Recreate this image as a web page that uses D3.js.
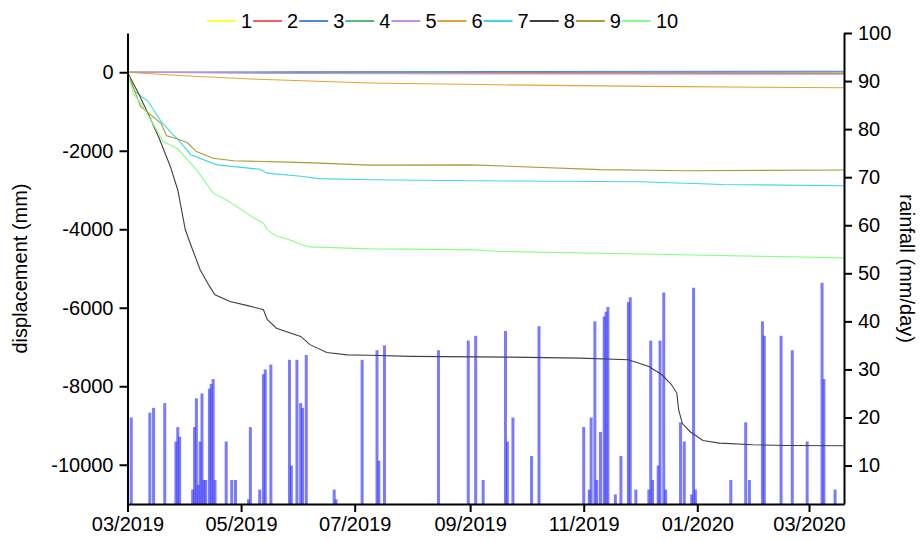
<!DOCTYPE html>
<html>
<head>
<meta charset="utf-8">
<script src="https://cdn.jsdelivr.net/npm/d3@7"></script>
<style>
  body { margin: 0; background: #fff; }
  svg text { font-family: "Liberation Sans", Arial, sans-serif; }
</style>
</head>
<body>
<svg id="drawing_region"></svg>
<script>
// rainfall (mm/day), date of each bar
const rainDates = ["2019-03-03","2019-03-13","2019-03-15","2019-03-21","2019-03-27","2019-03-28","2019-03-29",
  "2019-04-05","2019-04-06","2019-04-07","2019-04-08","2019-04-09","2019-04-10","2019-04-11","2019-04-12",
  "2019-04-14","2019-04-15","2019-04-16","2019-04-17","2019-04-23","2019-04-26","2019-04-28",
  "2019-05-05","2019-05-06","2019-05-11","2019-05-13","2019-05-14","2019-05-17","2019-05-27","2019-05-28","2019-05-31",
  "2019-06-02","2019-06-03","2019-06-05","2019-06-20","2019-06-21",
  "2019-07-05","2019-07-13","2019-07-14","2019-07-17","2019-08-15","2019-08-31",
  "2019-09-04","2019-09-08","2019-09-20","2019-09-21","2019-09-24","2019-10-04","2019-10-08",
  "2019-11-01","2019-11-04","2019-11-05","2019-11-07","2019-11-08","2019-11-10","2019-11-12","2019-11-13","2019-11-14",
  "2019-11-18","2019-11-21","2019-11-25","2019-11-26","2019-11-29",
  "2019-12-06","2019-12-07","2019-12-08","2019-12-11","2019-12-12","2019-12-14","2019-12-15",
  "2019-12-23","2019-12-25","2019-12-29","2019-12-30","2019-12-31",
  "2020-01-19","2020-01-27","2020-01-29","2020-02-05","2020-02-06","2020-02-15","2020-02-21","2020-02-29",
  "2020-03-08","2020-03-09","2020-03-15"];
const rainValues = [20,21,22,23,15,18,16,
  5,18,24,6,15,25,7,7,
  26,27,28,7,15,7,7,
  3,18,5,29,30,31,32,10,32,
  23,22,33,5,3,
  32,34,11,35,34,36,
  37,7,38,15,20,12,39,
  18,5,20,40,7,17,41,42,43,
  4,12,44,45,5,
  5,36,7,10,36,46,5,
  19,15,4,47,5,
  7,19,7,40,37,37,34,15,
  48,28,5];

// displacement (mm), one list of [date, value] per monitoring point
const seriesNames = ["1","2","3","4","5","6","7","8","9","10"];
const seriesColors = ["#ffff33","#f06060","#4a88e8","#55b878","#c490ee","#e0a535","#40d8e0","#404040","#aa9c35","#88ff88"];

const disp1 = [["2019-03-01",0],["2019-06-01",-10],["2019-10-01",-15],["2020-03-20",-10]];
const disp2 = [["2019-03-01",0],["2019-06-01",0],["2019-10-01",-5],["2020-03-20",5]];
const disp3 = [["2019-03-01",0],["2019-06-01",10],["2019-10-01",20],["2020-03-20",25]];
const disp4 = [["2019-03-01",0],["2019-06-01",-15],["2019-10-01",-25],["2020-03-20",-30]];
const disp5 = [["2019-03-01",0],["2019-06-01",-30],["2019-10-01",-45],["2020-03-20",-50]];
const disp6 = [["2019-03-01",0],["2019-03-31",-90],["2019-05-10",-180],["2019-07-09",-275],
  ["2019-09-16",-320],["2019-12-06",-360],["2020-03-20",-395]];
const disp7 = [["2019-03-01",0],["2019-03-05",-490],["2019-03-12",-740],["2019-03-19",-1250],["2019-03-24",-1510],
  ["2019-03-29",-1760],["2019-04-04",-2100],["2019-04-18",-2360],["2019-05-11",-2470],["2019-05-15",-2570],
  ["2019-06-02",-2650],["2019-06-12",-2710],["2019-07-09",-2740],["2019-09-01",-2765],["2019-12-01",-2790],
  ["2020-01-15",-2860],["2020-03-20",-2890]];
const disp8 = [["2019-03-01",0],["2019-03-07",-550],["2019-03-13",-1150],["2019-03-18",-1680],["2019-03-24",-2400],
  ["2019-03-28",-3000],["2019-04-01",-4000],["2019-04-04",-4400],["2019-04-09",-5030],["2019-04-14",-5450],
  ["2019-04-17",-5670],["2019-04-25",-5840],["2019-05-04",-5940],["2019-05-13",-6050],["2019-05-15",-6300],
  ["2019-05-20",-6520],["2019-06-02",-6730],["2019-06-07",-6940],["2019-06-16",-7140],["2019-06-27",-7200],
  ["2019-07-09",-7210],["2019-07-31",-7240],["2019-09-22",-7257],["2019-10-30",-7283],["2019-11-25",-7326],
  ["2019-12-06",-7496],["2019-12-13",-7708],["2019-12-18",-7950],["2019-12-21",-8174],["2019-12-22",-8600],
  ["2019-12-24",-8950],["2019-12-28",-9152],["2020-01-04",-9382],["2020-01-13",-9449],["2020-01-31",-9492],
  ["2020-02-18",-9509],["2020-03-20",-9517]];
const disp9 = [["2019-03-01",0],["2019-03-08",-870],["2019-03-19",-1300],["2019-03-22",-1620],["2019-03-28",-1700],
  ["2019-04-02",-1790],["2019-04-07",-2020],["2019-04-16",-2190],["2019-04-27",-2255],["2019-05-26",-2290],
  ["2019-06-12",-2315],["2019-07-09",-2365],["2019-09-01",-2360],["2019-11-10",-2480],["2019-12-26",-2510],
  ["2020-03-20",-2490]];
const disp10 = [["2019-03-01",0],["2019-03-04",-530],["2019-03-09",-850],["2019-03-15",-1340],["2019-03-20",-1760],
  ["2019-03-28",-1950],["2019-04-07",-2480],["2019-04-16",-3080],["2019-04-23",-3250],["2019-05-04",-3590],
  ["2019-05-08",-3720],["2019-05-13",-3840],["2019-05-15",-4010],["2019-05-20",-4170],["2019-05-27",-4270],
  ["2019-06-03",-4400],["2019-06-07",-4450],["2019-07-09",-4500],["2019-09-01",-4520],["2019-09-17",-4565],
  ["2019-12-23",-4650],["2020-03-20",-4730]];
const dispSeries = [disp1,disp2,disp3,disp4,disp5,disp6,disp7,disp8,disp9,disp10];

const dispTicks = [0,-2000,-4000,-6000,-8000,-10000];
const rainTicks = [10,20,30,40,50,60,70,80,90,100];
const dateTicks = ["2019-03-01","2019-05-01","2019-07-01","2019-09-01","2019-11-01","2020-01-01","2020-03-01"];

const parseDate = d3.timeParse("%Y-%m-%d");

class DispRainChart {

    constructor( config ) {
        this.config = config;
        this.init();
    }

    init() {
        let self = this;

        self.svg = d3.select( self.config.parent )
            .attr('width', self.config.width)
            .attr('height', self.config.height);

        self.chart = self.svg.append('g')
            .attr('transform', `translate(${self.config.margin.left}, ${self.config.margin.top})`);

        self.inner_width = self.config.width - self.config.margin.left - self.config.margin.right;
        self.inner_height = self.config.height - self.config.margin.top - self.config.margin.bottom;

        self.xscale = d3.scaleTime()
            .domain( [parseDate("2019-03-01"), new Date(2020, 2, 19, 19)] )
            .range( [0, self.inner_width] );

        self.yscale = d3.scaleLinear()
            .domain( [-11000, 1000] )
            .range( [self.inner_height, 0] );

        self.rscale = d3.scaleLinear()
            .domain( [2, 100] )
            .range( [self.inner_height, 0] );
    }

    render() {
        let self = this;
        const rain = rainDates.map( (d, i) => ({ date: parseDate(d), value: rainValues[i] }) );

        self.chart.selectAll("rect.rain")
            .data(rain)
            .enter()
            .append("rect")
            .attr("class", "rain")
            .attr("x", d => self.xscale(d.date) - 1.5 )
            .attr("width", 3)
            .attr("y", d => self.rscale(d.value) )
            .attr("height", d => self.inner_height - self.rscale(d.value) )
            .attr("fill", "#3c3cff")
            .attr("fill-opacity", 0.68);

        const line = d3.line()
            .x( d => self.xscale(parseDate(d[0])) )
            .y( d => self.yscale(d[1]) );

        self.chart.selectAll("path.disp")
            .data(dispSeries)
            .enter()
            .append("path")
            .attr("class", "disp")
            .attr("d", line)
            .attr("fill", "none")
            .attr("stroke", (d, i) => seriesColors[i])
            .attr("stroke-width", 1.1);

        const fmt = d3.timeFormat("%m/%Y");
        const xaxis = d3.axisBottom( self.xscale )
            .tickValues( dateTicks.map(parseDate) )
            .tickFormat( fmt )
            .tickSizeInner(8).tickSizeOuter(0).tickPadding(5);
        const yaxis = d3.axisLeft( self.yscale )
            .tickValues( dispTicks )
            .tickFormat( d => String(d) )
            .tickSizeInner(8).tickSizeOuter(0).tickPadding(6);
        const raxis = d3.axisRight( self.rscale )
            .tickValues( rainTicks )
            .tickFormat( d => String(d) )
            .tickSizeInner(8).tickSizeOuter(0).tickPadding(6);

        const styleAxis = g => {
            g.selectAll("path, line").attr("stroke", "#000").attr("stroke-width", 2);
            g.selectAll("text").attr("font-size", "20px").attr("fill", "#000")
                .attr("font-family", '"Liberation Sans", Arial, sans-serif');
        };

        self.chart.append('g')
            .attr('transform', `translate(0, ${self.inner_height})`)
            .call( xaxis ).call( styleAxis );
        self.chart.append('g')
            .call( yaxis ).call( styleAxis );
        self.chart.append('g')
            .attr('transform', `translate(${self.inner_width}, 0)`)
            .call( raxis ).call( styleAxis );

        // axis titles
        self.chart.append("text")
            .attr("transform", `translate(${-self.config.margin.left + 27}, ${self.inner_height / 2}) rotate(-90)`)
            .attr("text-anchor", "middle")
            .attr("font-size", "20px")
            .text("displacement (mm)");

        self.chart.append("text")
            .attr("transform", `translate(${self.inner_width + 56}, ${self.inner_height / 2}) rotate(90)`)
            .attr("text-anchor", "middle")
            .attr("font-size", "20px")
            .text("rainfall (mm/day)");

        // legend
        const legend = self.svg.append('g')
            .attr('transform', 'translate(207, 21)');
        const item = legend.selectAll("g")
            .data(seriesNames)
            .enter()
            .append("g")
            .attr("transform", (d, i) => `translate(${i * 46.1}, 0)`);
        item.append("line")
            .attr("x1", 0).attr("x2", 29)
            .attr("stroke", (d, i) => seriesColors[i])
            .attr("stroke-width", 2);
        item.append("text")
            .attr("x", 34)
            .attr("dy", "0.36em")
            .attr("font-size", "20px")
            .text(d => d);
    }
}

const chart = new DispRainChart({
    parent: '#drawing_region',
    width: 922,
    height: 541,
    margin: {top: 33, right: 78, bottom: 37, left: 127.5}
});
chart.render();
</script>
</body>
</html>
